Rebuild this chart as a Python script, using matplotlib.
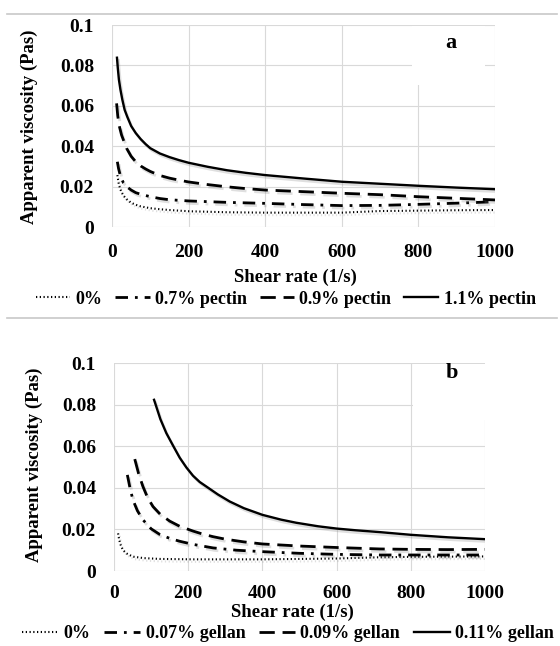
import matplotlib
matplotlib.use("Agg")
import matplotlib.pyplot as plt
from matplotlib.lines import Line2D
from matplotlib.patches import Rectangle
import matplotlib.patheffects as pe

plt.rcParams['font.family'] = ['Liberation Serif', 'DejaVu Serif']
plt.rcParams['font.weight'] = 'bold'

# ---------------- data: panel a (pectin) ----------------
a0_x = [14, 17, 21, 25, 30, 38, 50, 62, 75, 100, 125, 150, 200, 300, 400, 500, 600, 700,
        800, 900, 1000]
a0_y = [0.0257, 0.0220, 0.0190, 0.0172, 0.0155, 0.0138, 0.0120, 0.0110, 0.0102, 0.0093,
        0.0088, 0.0084, 0.0078, 0.0073, 0.0071, 0.0071, 0.0071, 0.0079, 0.0081, 0.0083, 0.0084]
a07_x = [14, 17, 21, 25, 30, 38, 50, 62, 75, 100, 125, 150, 200, 300, 400, 500, 600, 700,
         800, 900, 1000]
a07_y = [0.0323, 0.0290, 0.0260, 0.0238, 0.0218, 0.0200, 0.0183, 0.0170, 0.0162, 0.0150,
         0.0141, 0.0135, 0.0129, 0.0122, 0.0117, 0.0111, 0.0106, 0.0107, 0.0112, 0.0118, 0.0125]
a09_x = [12, 15, 19, 25, 32, 38, 50, 62, 75, 88, 100, 125, 150, 175, 200, 250, 300, 350,
         400, 500, 600, 700, 800, 900, 1000]
a09_y = [0.0612, 0.0550, 0.0500, 0.0455, 0.0420, 0.0390, 0.0350, 0.0323, 0.0302, 0.0287,
         0.0275, 0.0255, 0.0242, 0.0232, 0.0223, 0.0210, 0.0199, 0.0190, 0.0183, 0.0175,
         0.0167, 0.0160, 0.0150, 0.0142, 0.0134]
a11_x = [13, 15, 18, 22, 27, 33, 40, 50, 62, 75, 88, 100, 125, 150, 175, 200, 250, 300,
         350, 400, 500, 600, 700, 800, 900, 1000]
a11_y = [0.0838, 0.0790, 0.0730, 0.0680, 0.0630, 0.0580, 0.0545, 0.0500, 0.0465, 0.0435,
         0.0410, 0.0390, 0.0364, 0.0346, 0.0331, 0.0318, 0.0298, 0.0281, 0.0268, 0.0257,
         0.0240, 0.0224, 0.0214, 0.0204, 0.0195, 0.0187]
labels_a = ['0%', '0.7% pectin', '0.9% pectin', '1.1% pectin']

# ---------------- data: panel b (gellan) ----------------
b0_x = [11, 14, 18, 24, 33, 51, 80, 123, 213, 400, 600, 716, 800, 1000]
b0_y = [0.0181, 0.0150, 0.0125, 0.0101, 0.0085, 0.0069, 0.0062, 0.0058, 0.0056, 0.0056,
        0.0060, 0.0066, 0.0068, 0.0070]
b07_x = [36, 43, 51, 63, 78, 100, 123, 150, 177, 213, 267, 330, 400, 500, 600, 716, 1000]
b07_y = [0.0462, 0.0400, 0.0342, 0.0290, 0.0246, 0.0203, 0.0176, 0.0157, 0.0143, 0.0128,
         0.0111, 0.0100, 0.0093, 0.0085, 0.0080, 0.0077, 0.0077]
b09_x = [56, 66, 78, 90, 105, 125, 150, 177, 213, 240, 267, 300, 350, 400, 500, 600, 716,
         800, 900, 1000]
b09_y = [0.0538, 0.0470, 0.0406, 0.0355, 0.0310, 0.0272, 0.0240, 0.0215, 0.0192, 0.0177,
         0.0165, 0.0153, 0.0140, 0.0130, 0.0120, 0.0113, 0.0106, 0.0104, 0.0103, 0.0104]
b11_x = [108, 125, 141, 160, 177, 195, 213, 231, 249, 280, 312, 350, 400, 450, 491, 550,
         600, 650, 716, 800, 900, 1000]
b11_y = [0.0823, 0.0730, 0.0663, 0.0600, 0.0545, 0.0498, 0.0458, 0.0428, 0.0406, 0.0368,
         0.0334, 0.0302, 0.0270, 0.0247, 0.0232, 0.0215, 0.0204, 0.0196, 0.0187, 0.0174,
         0.0162, 0.0153]
labels_b = ['0%', '0.07% gellan', '0.09% gellan', '0.11% gellan']

x_ticks = [0, 200, 400, 600, 800, 1000]
y_ticks = [0, 0.02, 0.04, 0.06, 0.08, 0.1]
y_ticklabels = ['0', '0.02', '0.04', '0.06', '0.08', '0.1']

# ---------------- styles ----------------
styles = [
    dict(color='black', lw=1.5, linestyle=(0, (0.6, 1.2))),
    dict(color='black', lw=2.0, linestyle=(0, (4.5, 2.5, 1, 2.5))),
    dict(color='black', lw=2.0, linestyle=(0, (5.5, 2.8))),
    dict(color='black', lw=1.7, linestyle='-'),
]
shadow = [pe.SimpleLineShadow(offset=(1.2, -1.8), shadow_color='gray', alpha=0.25),
          pe.Normal()]

W, H = 560, 646
fig = plt.figure(figsize=(W / 100, H / 100), dpi=100)


def make_axes(box):
    l, t, r, b = box
    ax = fig.add_axes([l / W, 1 - b / H, (r - l) / W, (b - t) / H])
    ax.set_xlim(0, 1000)
    ax.set_ylim(0, 0.1)
    ax.set_xticks(x_ticks)
    ax.set_yticks(y_ticks)
    ax.set_yticklabels(y_ticklabels)
    ax.grid(True, color='#d9d9d9', lw=0.8, zorder=0)
    ax.set_axisbelow(True)
    for s in ax.spines.values():
        s.set_visible(False)
    ax.tick_params(length=0, labelsize=14)
    for lab in ax.get_xticklabels() + ax.get_yticklabels():
        lab.set_fontweight('bold')
    return ax


# panel a
ax_a = make_axes((112, 25, 495, 227))
ax_a.tick_params(axis='x', pad=12)
ax_a.tick_params(axis='y', pad=13)
for (xs, ys), st in zip([(a0_x, a0_y), (a07_x, a07_y), (a09_x, a09_y), (a11_x, a11_y)], styles):
    ax_a.plot(xs, ys, zorder=3, path_effects=shadow, **st)
ax_a.add_patch(Rectangle((783, 0.0703), 191, 0.0292, facecolor='white', edgecolor='none', zorder=1))
ax_a.text(885, 0.091, 'a', ha='center', va='center', fontsize=16, fontweight='bold', zorder=4)

# panel b
ax_b = make_axes((114, 363, 485, 571))
ax_b.tick_params(axis='x', pad=10)
ax_b.tick_params(axis='y', pad=13)
for (xs, ys), st in zip([(b0_x, b0_y), (b07_x, b07_y), (b09_x, b09_y), (b11_x, b11_y)], styles):
    ax_b.plot(xs, ys, zorder=3, path_effects=shadow, **st)
ax_b.add_patch(Rectangle((806, 0.0727), 200, 0.0268, facecolor='white', edgecolor='none',
                         zorder=1, clip_on=False))
ax_b.text(910, 0.0950, 'b', ha='center', va='center', fontsize=16, fontweight='bold', zorder=4)

# axis titles
fig.text(29 / W, 1 - 127 / H, 'Apparent viscosity (Pas)', rotation=90, ha='center', va='center',
         fontsize=13.5, fontweight='bold')
fig.text(34 / W, 1 - 465 / H, 'Apparent viscosity (Pas)', rotation=90, ha='center', va='center',
         fontsize=13.5, fontweight='bold')
fig.text(295 / W, 1 - 277 / H, 'Shear rate (1/s)', ha='center', va='center',
         fontsize=13.5, fontweight='bold')
fig.text(292 / W, 1 - 612 / H, 'Shear rate (1/s)', ha='center', va='center',
         fontsize=13.5, fontweight='bold')

# legends
def handles():
    return [Line2D([], [], **st) for st in styles]

fig.legend(handles(), labels_a, bbox_to_anchor=(286 / W, 1 - 299 / H), loc='center', ncol=4,
           frameon=False, handlelength=1.9, handletextpad=0.3, columnspacing=0.7,
           prop=dict(weight='bold', size=13))
fig.legend(handles(), labels_b, bbox_to_anchor=(288 / W, 1 - 634 / H), loc='center', ncol=4,
           frameon=False, handlelength=2.0, handletextpad=0.3, columnspacing=0.75,
           prop=dict(weight='bold', size=13))

# separator lines
for yy in (14, 318):
    fig.add_artist(Line2D([7 / W, 557 / W], [1 - yy / H, 1 - yy / H], color='#c8c8c8', lw=1.2))

fig.savefig('out.png', dpi=100)
